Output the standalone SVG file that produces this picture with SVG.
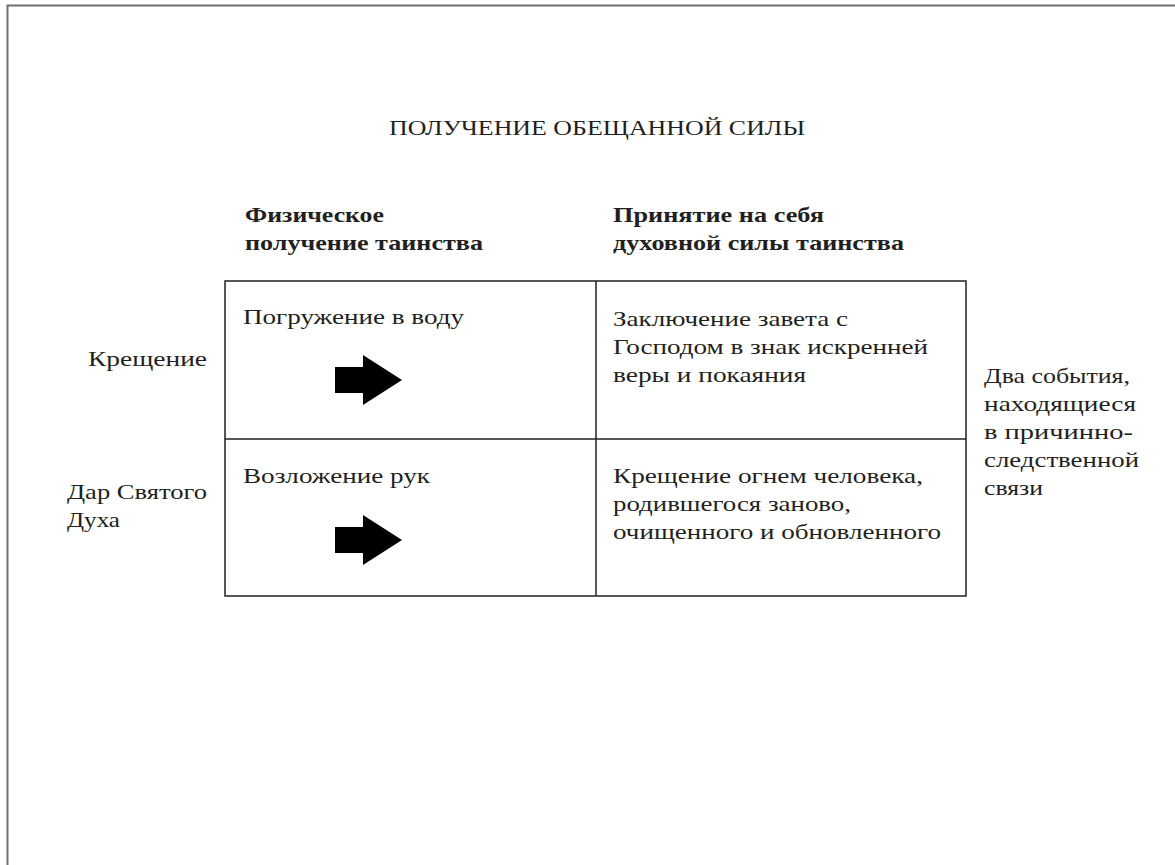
<svg xmlns="http://www.w3.org/2000/svg" width="1175" height="865" viewBox="0 0 1175 865">
<style>
text{font-family:"Liberation Serif","DejaVu Serif",serif;fill:#231f20;}
.t{font-size:21px;}
.b{font-size:22px;font-weight:bold;}
.title{font-size:21px;}
.cell{fill:none;stroke:#231f20;stroke-width:1.5;}
.frame{stroke:#707070;stroke-width:2;fill:none;}
.arr{fill:#000;}
</style>
<defs>
<path id="arrow" d="M0,-13 H28 V-25 L67,0 L28,25 V13 H0 Z"/>
</defs>
<rect width="1175" height="865" fill="#fff"/>
<path class="frame" d="M7.5,865 V5.5 H1175"/>
<g id="title"><text class="title" x="389" y="135" textLength="416" lengthAdjust="spacingAndGlyphs">ПОЛУЧЕНИЕ ОБЕЩАННОЙ СИЛЫ</text></g>
<g id="header-physical"><text class="b" x="245" y="222" textLength="139" lengthAdjust="spacingAndGlyphs">Физическое</text><text class="b" x="245" y="250" textLength="238" lengthAdjust="spacingAndGlyphs">получение таинства</text></g>
<g id="header-spiritual"><text class="b" x="613" y="222" textLength="211" lengthAdjust="spacingAndGlyphs">Принятие на себя</text><text class="b" x="613" y="250" textLength="291" lengthAdjust="spacingAndGlyphs">духовной силы таинства</text></g>
<g id="table">
<rect class="cell" x="225" y="281" width="741" height="315"/>
<line class="cell" x1="596" y1="281" x2="596" y2="596"/>
<line class="cell" x1="225" y1="439" x2="966" y2="439"/>
</g>
<g id="row-baptism-label"><text class="t" x="88" y="366" textLength="119" lengthAdjust="spacingAndGlyphs">Крещение</text></g>
<g id="row-gift-label"><text class="t" x="67" y="499" textLength="140" lengthAdjust="spacingAndGlyphs">Дар Святого</text><text class="t" x="67" y="527" textLength="53" lengthAdjust="spacingAndGlyphs">Духа</text></g>
<g id="cell-immersion"><text class="t" x="243" y="324" textLength="221" lengthAdjust="spacingAndGlyphs">Погружение в воду</text></g>
<g id="cell-covenant"><text class="t" x="613" y="326" textLength="235" lengthAdjust="spacingAndGlyphs">Заключение завета с</text><text class="t" x="613" y="354" textLength="315" lengthAdjust="spacingAndGlyphs">Господом в знак искренней</text><text class="t" x="613" y="382" textLength="193" lengthAdjust="spacingAndGlyphs">веры и покаяния</text></g>
<g id="cell-hands"><text class="t" x="243" y="483" textLength="187" lengthAdjust="spacingAndGlyphs">Возложение рук</text></g>
<g id="cell-fire"><text class="t" x="613" y="483" textLength="310" lengthAdjust="spacingAndGlyphs">Крещение огнем человека,</text><text class="t" x="613" y="511" textLength="238" lengthAdjust="spacingAndGlyphs">родившегося заново,</text><text class="t" x="613" y="539" textLength="328" lengthAdjust="spacingAndGlyphs">очищенного и обновленного</text></g>
<g id="side-note"><text class="t" x="984" y="383" textLength="146" lengthAdjust="spacingAndGlyphs">Два события,</text><text class="t" x="984" y="411" textLength="152" lengthAdjust="spacingAndGlyphs">находящиеся</text><text class="t" x="984" y="439" textLength="149" lengthAdjust="spacingAndGlyphs">в причинно-</text><text class="t" x="984" y="467" textLength="155" lengthAdjust="spacingAndGlyphs">следственной</text><text class="t" x="984" y="495" textLength="59" lengthAdjust="spacingAndGlyphs">связи</text></g>
<g id="connectors">
<use href="#arrow" class="arr" x="335" y="380"/>
<use href="#arrow" class="arr" x="335" y="540"/>
</g>
</svg>
